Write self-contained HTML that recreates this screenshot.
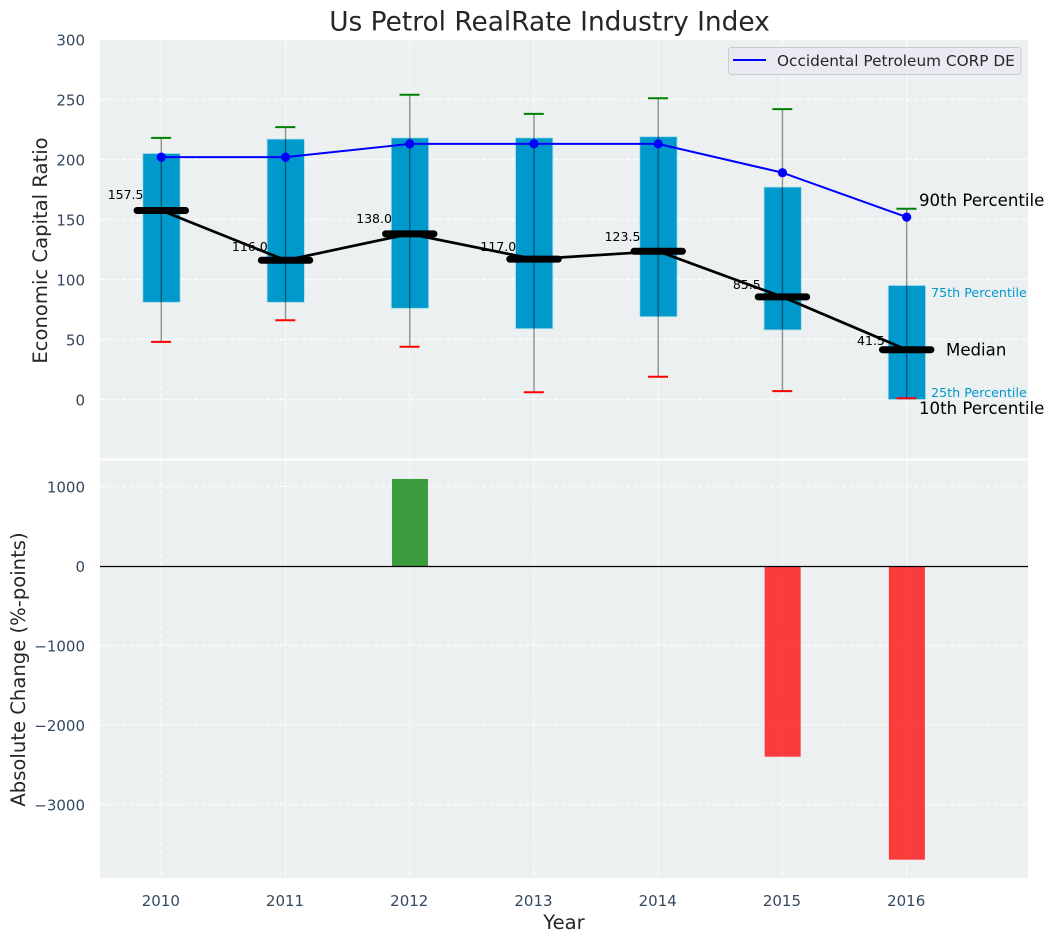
<!DOCTYPE html>
<html>
<head>
<meta charset="utf-8">
<title>Us Petrol RealRate Industry Index</title>
<style>
html,body{margin:0;padding:0;background:#fff;width:1054px;height:942px;overflow:hidden}
svg{display:block}
text{font-family:"DejaVu Sans","Liberation Sans",sans-serif}
</style>
</head>
<body>
<svg id="chart" xmlns="http://www.w3.org/2000/svg" width="1054" height="942" viewBox="0 0 1054 942">
  <rect x="0" y="0" width="1054" height="942" fill="#ffffff"/>
  <rect x="100" y="40" width="928" height="418.5" fill="#ecf0f1"/>
  <rect x="100" y="460.5" width="928" height="417.5" fill="#ecf0f1"/>
  <g id="grid"></g>
  <g id="marks"></g>
  <g id="labels"></g>
  <text x="549.5" y="30.5" text-anchor="middle" font-size="26.4" fill="#262626">Us Petrol RealRate Industry Index</text>
  <text transform="translate(47,250.5) rotate(-90)" text-anchor="middle" font-size="19.6" fill="#262626">Economic Capital Ratio</text>
  <text transform="translate(25,669.5) rotate(-90)" text-anchor="middle" font-size="19.6" fill="#262626">Absolute Change (%-points)</text>
  <text x="564" y="929" text-anchor="middle" font-size="19.6" fill="#262626">Year</text>
  <g>
    <rect x="728.5" y="47.5" width="292.5" height="27" rx="3" fill="#eaeaf2" fill-opacity="0.9" stroke="#cccccc" stroke-width="1"/>
    <line x1="733" y1="60" x2="766" y2="60" stroke="#0000ff" stroke-width="2"/>
    <text x="777" y="66" font-size="15.3" fill="#262626">Occidental Petroleum CORP DE</text>
  </g>
  <text x="919" y="206" font-size="16.6" fill="#000000">90th Percentile</text>
  <text x="931" y="297" font-size="12.7" fill="#0099cc">75th Percentile</text>
  <text x="946" y="355.5" font-size="16.6" fill="#000000">Median</text>
  <text x="931" y="397" font-size="12.7" fill="#0099cc">25th Percentile</text>
  <text x="919" y="414" font-size="16.6" fill="#000000">10th Percentile</text>
</svg>
<script>
var years = [2010, 2011, 2012, 2013, 2014, 2015, 2016];
var p90 = [218, 227, 254, 238, 251, 242, 159];
var p75 = [205, 217, 218, 218, 219, 177, 95];
var medians = [157.5, 116, 138, 117, 123.5, 85.5, 41.5];
var p25 = [81, 81, 76, 59, 69, 58, 0];
var p10 = [48, 66, 44, 6, 19, 7, 1];
var company = [202, 202, 213, 213, 213, 189, 152];
var medianLabels = ["157.5", "116.0", "138.0", "117.0", "123.5", "85.5", "41.5"];
var medianLabelAnchors = [171, 127.5, 151, 127.5, 136, 96, 49];
var changes = [0, 0, 1095, 0, 0, -2399, -3694];
var topTicks = [0, 50, 100, 150, 200, 250, 300];
var bottomTicks = [-3000, -2000, -1000, 0, 1000];

var NS = "http://www.w3.org/2000/svg";
var gridG = document.getElementById("grid");
var marksG = document.getElementById("marks");
var labelsG = document.getElementById("labels");

function xPos(year) { return 161.3 + (year - 2010) * 124.23; }
function xSpan(units) { return units * 124.23; }
function yTop(v) { return 399.5 - v * 1.2; }
function yBottom(v) { return 566 - v * 0.0795; }

function make(parent, tag, attrs, content) {
  var el = document.createElementNS(NS, tag);
  for (var k in attrs) { el.setAttribute(k, attrs[k]); }
  if (content !== undefined) { el.textContent = content; }
  parent.appendChild(el);
  return el;
}

var gridStyle = { stroke: "#ffffff", "stroke-width": 1.2, "stroke-dasharray": "5,2.2", "stroke-opacity": 0.85 };
function gridLine(x1, y1, x2, y2) {
  return make(gridG, "line", { x1: x1, y1: y1, x2: x2, y2: y2, stroke: gridStyle.stroke, "stroke-width": gridStyle["stroke-width"], "stroke-dasharray": gridStyle["stroke-dasharray"], "stroke-opacity": gridStyle["stroke-opacity"] });
}

topTicks.forEach(function (t) {
  var y = yTop(t);
  var line = gridLine(100, y, 1028, y);
  
  
  var label = make(labelsG, "text", { x: 85, y: y + 6, "text-anchor": "end", "font-size": 15, fill: "#34495e" }, String(t));
  
  
});

bottomTicks.forEach(function (t) {
  var y = yBottom(t);
  var line = gridLine(100, y, 1028, y);
  
  
  var text = t < 0 ? "\u2212" + Math.abs(t) : String(t);
  var label = make(labelsG, "text", { x: 85, y: y + 6, "text-anchor": "end", "font-size": 15, fill: "#34495e" }, text);
  
  
});

years.forEach(function (year) {
  var x = xPos(year);
  var upper = gridLine(x, 40, x, 458.5);
  
  
  var lower = gridLine(x, 460.5, x, 878);
  
  
  var label = make(labelsG, "text", { x: x - 0.5, y: 906, "text-anchor": "middle", "font-size": 15, fill: "#34495e" }, String(year));
  
  
});

/* percentile boxes */
years.forEach(function (year, i) {
  var w = xSpan(0.3);
  var box = make(marksG, "rect", { x: xPos(year) - w / 2 + 0.2, y: yTop(p75[i]), width: w, height: yTop(p25[i]) - yTop(p75[i]), fill: "#0099cc", stroke: "#a6dcec", "stroke-width": 0.8 });
  
  
});

/* whiskers */
years.forEach(function (year, i) {
  var x = xPos(year);
  var whisker = make(marksG, "line", { x1: x, y1: yTop(p90[i]), x2: x, y2: yTop(p10[i]), stroke: "#000000", "stroke-opacity": 0.42, "stroke-width": 1.4 });
  
  
  var hi = make(marksG, "line", { x1: x - 10.2, y1: yTop(p90[i]), x2: x + 9.8, y2: yTop(p90[i]), stroke: "#008000", "stroke-width": 2 });
  
  
  var lo = make(marksG, "line", { x1: x - 10.2, y1: yTop(p10[i]), x2: x + 9.8, y2: yTop(p10[i]), stroke: "#ff0000", "stroke-width": 2 });
  
  
});

/* median connecting line */
var medianPts = years.map(function (year, i) { return xPos(year) + "," + yTop(medians[i]); }).join(" ");
var medianLine = make(marksG, "polyline", { points: medianPts, fill: "none", stroke: "#000000", "stroke-width": 2.7, "stroke-linejoin": "round" });



/* median bars and labels */
years.forEach(function (year, i) {
  var x = xPos(year);
  var half = xSpan(0.195);
  var bar = make(marksG, "line", { x1: x - half, y1: yTop(medians[i]), x2: x + half, y2: yTop(medians[i]), stroke: "#000000", "stroke-width": 7, "stroke-linecap": "round" });
  
  
  var label = make(labelsG, "text", { x: x - 35.7, y: yTop(medianLabelAnchors[i]) + 4.5, "text-anchor": "middle", "font-size": 12.5, fill: "#000000" }, medianLabels[i]);
  
  
});

/* company line */
var companyPts = years.map(function (year, i) { return xPos(year) + "," + yTop(company[i]); }).join(" ");
var companyLine = make(marksG, "polyline", { points: companyPts, fill: "none", stroke: "#0000ff", "stroke-width": 2 });


years.forEach(function (year, i) {
  var dot = make(marksG, "circle", { cx: xPos(year), cy: yTop(company[i]), r: 4.6, fill: "#0000ff" });
  
  
});

/* change bars */
years.forEach(function (year, i) {
  if (changes[i] === 0) { return; }
  var w = xSpan(0.29);
  var top = Math.min(yBottom(changes[i]), yBottom(0));
  var h = Math.abs(yBottom(changes[i]) - yBottom(0));
  var color = changes[i] > 0 ? "#008000" : "#ff0000";
  var bar = make(marksG, "rect", { x: xPos(year) - w / 2 + 0.2, y: top, width: w, height: h, fill: color, "fill-opacity": 0.75 });
  
  
});

var zero = make(marksG, "line", { x1: 100, y1: yBottom(0) + 0.5, x2: 1028, y2: yBottom(0) + 0.5, stroke: "#000000", "stroke-width": 1.2 });


</script>
</body>
</html>
